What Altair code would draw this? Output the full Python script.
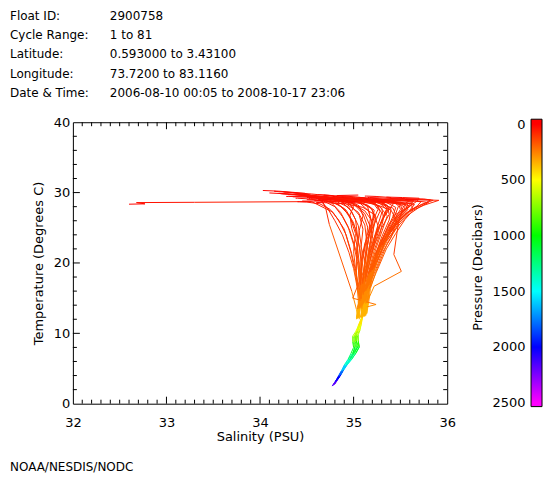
import altair as alt
import pandas as pd

# ---------------- text ----------------
header_labels = ["Float ID:", "Cycle Range:", "Latitude:", "Longitude:", "Date & Time:"]
header_values = ["2900758", "1 to 81", "0.593000 to 3.43100", "73.7200 to 83.1160",
                 "2006-08-10 00:05 to 2008-10-17 23:06"]
footer_text = "NOAA/NESDIS/NODC"

# ---------------- axis ticks ----------------
sal_ticks = [32, 33, 34, 35, 36]
tmp_ticks = [0, 10, 20, 30, 40]
pres_ticks = [0, 500, 1000, 1500, 2000, 2500]

# ---------------- colour table: pressure -> colour ----------------
pres_stops = [0, 500, 1000, 1500, 2000, 2500]
color_stops = ["#ff0000", "#ffff00", "#00ff00", "#00ffff", "#0000ff", "#ff00ff"]

# ---------------- profiles (salinity / temperature at pressure levels) ----------------
levels = [5, 15, 25, 40, 60, 80, 100, 125, 150, 200, 250, 300, 400,
          500, 600, 700, 850, 1000, 1150, 1300, 1500, 1700, 1900, 2100, 2250]

sal_01 = [32.60, 32.77, 32.68, 33.30, 34.55, 34.78, 34.90, 34.97, 35.01, 35.05, 35.07, 35.06, 35.05]
tmp_01 = [28.35, 28.40, 28.58, 28.62, 28.72, 27.20, 24.80, 21.60, 19.00, 16.10, 14.60, 13.50, 12.20]
sal_02 = [34.03, 34.20, 34.48, 34.62, 34.72, 34.80, 34.88, 34.95, 35.00, 35.04, 35.07, 35.12, 35.13]
tmp_02 = [30.30, 30.20, 29.90, 29.20, 27.80, 26.00, 24.00, 21.50, 19.20, 16.40, 14.80, 13.60, 12.60]
sal_03 = [34.20, 34.25, 34.40, 34.66, 34.85, 34.95, 35.02, 35.06, 35.08, 35.09, 35.10, 35.10, 35.10,
          35.08, 35.06, 35.04, 35.05, 35.06, 35.02, 34.98, 34.93, 34.89, 34.86, 34.82, 34.79]
tmp_03 = [29.90, 29.85, 29.70, 29.10, 28.20, 26.80, 24.90, 22.40, 20.10, 17.00, 15.20, 13.80, 12.50,
          11.20, 10.40, 9.70, 8.80, 8.00, 7.10, 6.30, 5.50, 4.70, 4.00, 3.30, 2.70]
sal_04 = [34.35, 34.36, 34.50, 34.90, 35.10, 35.20, 35.22, 35.20, 35.16, 35.12, 35.08, 35.04, 35.06]
tmp_04 = [29.40, 29.40, 29.35, 29.00, 28.50, 27.60, 26.00, 23.50, 21.00, 17.50, 15.30, 13.70, 12.40]
sal_05 = [35.20, 35.22, 35.40, 35.70, 35.91, 35.75, 35.60, 35.48, 35.36, 35.22, 35.17, 35.15, 35.14]
tmp_05 = [29.10, 29.10, 29.05, 29.00, 28.90, 28.20, 27.30, 25.60, 23.20, 19.50, 16.60, 14.40, 12.80]
sal_06 = [34.80, 34.82, 34.95, 35.30, 35.62, 35.63, 35.55, 35.45, 35.35, 35.24, 35.16, 35.14, 35.12]
tmp_06 = [28.90, 28.90, 28.90, 28.85, 28.40, 27.40, 26.20, 24.20, 22.00, 18.60, 16.00, 14.10, 12.50]
sal_07 = [34.60, 34.62, 34.75, 35.05, 35.35, 35.45, 35.42, 35.35, 35.28, 35.18, 35.13, 35.10, 35.09,
          35.06, 35.04, 35.01, 35.00, 35.01, 34.99, 34.96, 34.92, 34.88, 34.85, 34.81, 34.78]
tmp_07 = [29.20, 29.20, 29.15, 29.00, 28.60, 27.90, 26.60, 24.60, 22.50, 18.90, 16.20, 14.20, 12.40,
          11.00, 10.30, 9.60, 8.70, 7.90, 7.00, 6.20, 5.40, 4.60, 3.90, 3.20, 2.60]
sal_08 = [34.45, 34.46, 34.58, 34.78, 34.92, 35.05, 35.12, 35.14, 35.12, 35.10, 35.07, 35.05, 35.04]
tmp_08 = [29.60, 29.60, 29.50, 29.20, 28.40, 27.20, 25.40, 23.00, 20.60, 17.30, 15.20, 13.60, 12.10]
sal_09 = [34.50, 34.52, 34.60, 34.66, 34.70, None, 34.74, None, None, None, 34.98, 35.03, 35.05]
tmp_09 = [29.30, 29.30, 29.25, 28.90, 27.90, None, 25.50, None, None, None, 16.00, 13.40, 12.20]
sal_10 = [34.90, 34.92, 35.05, 35.30, 35.50, 35.52, 35.48, 35.43, None, 35.51, 35.22, 35.13, 35.11]
tmp_10 = [29.00, 29.00, 28.95, 28.80, 28.30, 27.50, 25.80, 21.20, None, 18.80, 16.70, 14.00, 12.40]
sal_11 = [34.55, 34.58, 34.70, 34.95, 35.18, 35.30, 35.32, 35.28, 35.22, 35.15, 35.11, 35.10, 35.09,
          35.05, 35.03, 35.00, 35.01, 35.02, 34.99, 34.95, 34.91, 34.88, 34.85, 34.82, 34.79]
tmp_11 = [29.50, 29.48, 29.40, 29.10, 28.70, 27.80, 26.40, 24.10, 21.80, 18.20, 15.80, 14.00, 12.40,
          11.10, 10.20, 9.50, 8.70, 8.10, 7.20, 6.40, 5.60, 4.80, 4.10, 3.40, 2.80]
sal_12 = [34.95, 34.70, 34.78, 34.98, 35.22, 35.40, 35.46, 35.40, 35.30, 35.20, 35.14, 35.13, 35.12]
tmp_12 = [29.05, 29.00, 28.95, 28.85, 28.40, 27.50, 26.00, 23.60, 21.30, 17.80, 15.50, 13.80, 12.60]
sal_13 = [34.95, 34.96, 35.10, 35.38, 35.55, 35.58, 35.50, 35.40, 35.32, 35.22, 35.17, 35.15, 35.13]
tmp_13 = [28.80, 28.80, 28.78, 28.70, 28.30, 27.60, 26.50, 24.60, 22.60, 19.00, 16.30, 14.30, 12.70]
sal_14 = [34.30, 34.32, 34.45, 34.70, 34.88, 34.98, 35.05, 35.08, 35.08, 35.07, 35.06, 35.05, 35.06]
tmp_14 = [29.70, 29.70, 29.60, 29.30, 28.60, 27.30, 25.30, 22.60, 20.20, 17.00, 15.00, 13.50, 12.00]
sal_15 = [34.85, 34.88, 35.00, 35.22, 35.36, 35.38, 35.30, 35.22, 35.17, 35.12, 35.10, 35.09, 35.09,
          35.08, 35.07, 35.05, 35.05, 35.06, 35.02, 34.97, 34.92, 34.88, 34.85, 34.81, 34.78]
tmp_15 = [29.20, 29.20, 29.10, 28.90, 28.20, 26.90, 25.00, 22.50, 20.30, 17.20, 15.20, 13.60, 12.30,
          11.30, 10.50, 9.80, 8.90, 8.10, 7.10, 6.20, 5.40, 4.60, 3.90, 3.10, 2.60]
sal_16 = [35.00, 35.02, 35.20, 35.50, 35.72, 35.68, 35.55, 35.42, 35.32, 35.20, 35.15, 35.14, 35.12]
tmp_16 = [29.00, 29.00, 28.98, 28.95, 28.70, 28.10, 27.00, 25.20, 23.00, 19.40, 16.50, 14.40, 12.70]
sal_17 = [34.40, 34.42, 34.55, 34.80, 35.00, 35.10, 35.15, 35.13, 35.10, 35.08, 35.07, 35.06, 35.04]
tmp_17 = [29.80, 29.75, 29.65, 29.20, 28.40, 27.00, 25.10, 22.80, 20.60, 17.60, 15.40, 13.70, 12.10]
sal_18 = [34.65, 34.66, 34.80, 35.08, 35.28, 35.35, 35.30, 35.25, 35.20, 35.13, 35.10, 35.11, 35.12]
tmp_18 = [29.35, 29.35, 29.30, 29.05, 28.50, 27.60, 26.10, 23.80, 21.50, 18.00, 15.60, 13.90, 12.40]
sal_19 = [35.30, 35.32, 35.45, 35.65, 35.80, 35.70, 35.58, 35.46, 35.36, 35.25, 35.18, 35.16, 35.14]
tmp_19 = [28.90, 28.90, 28.88, 28.85, 28.60, 27.90, 26.80, 25.00, 22.80, 19.20, 16.40, 14.30, 12.80]
sal_20 = [34.75, 34.76, 34.85, 35.05, 35.15, 35.18, 35.16, 35.14, 35.12, 35.10, 35.09, 35.09, 35.09,
          35.06, 35.04, 35.02, 35.03, 35.04, 35.00, 34.96, 34.92, 34.89, 34.86, 34.82, 34.79]
tmp_20 = [29.10, 29.10, 29.05, 28.80, 28.00, 26.40, 24.20, 21.60, 19.40, 16.60, 14.90, 13.50, 12.30,
          11.10, 10.30, 9.70, 8.90, 8.00, 7.00, 6.30, 5.50, 4.80, 4.10, 3.30, 2.70]
sal_21 = [34.50, 34.50, 34.60, 34.82, 34.95, 35.02, 35.04, 35.03, 35.03, 35.04, 35.05, 35.05, 35.03]
tmp_21 = [29.00, 29.00, 28.95, 28.70, 27.90, 26.20, 24.00, 21.20, 19.00, 16.30, 14.70, 13.40, 12.00]
sal_22 = [34.90, 34.90, 35.02, 35.25, 35.42, 35.48, 35.45, 35.37, 35.28, 35.18, 35.13, 35.11, 35.12]
tmp_22 = [29.40, 29.40, 29.35, 29.15, 28.80, 28.10, 27.00, 25.00, 22.80, 19.10, 16.30, 14.30, 12.50]
sal_23 = [34.25, 34.28, 34.40, 34.62, 34.80, 34.92, 35.00, 35.05, 35.08, 35.09, 35.08, 35.07, 35.05]
tmp_23 = [30.10, 30.05, 29.90, 29.40, 28.70, 27.50, 25.70, 23.20, 20.70, 17.40, 15.30, 13.70, 12.40]
sal_24 = [35.10, 35.12, 35.30, 35.55, 35.65, 35.60, 35.50, 35.38, 35.28, 35.18, 35.13, 35.12, 35.11]
tmp_24 = [28.70, 28.70, 28.70, 28.65, 28.30, 27.50, 26.20, 24.10, 22.00, 18.50, 15.90, 14.10, 12.40]
sal_25 = [34.60, 34.60, 34.72, 34.92, 35.10, 35.22, 35.26, 35.22, 35.18, 35.12, 35.10, 35.09, 35.09,
          35.05, 35.02, 34.99, 34.99, 35.00, 34.97, 34.94, 34.90, 34.87, 34.84, 34.81, 34.78]
tmp_25 = [28.60, 28.60, 28.55, 28.40, 27.90, 26.90, 25.30, 22.80, 20.50, 17.20, 15.20, 13.60, 12.30,
          11.00, 10.20, 9.60, 8.80, 8.00, 7.10, 6.30, 5.50, 4.70, 4.00, 3.20, 2.60]
sal_26 = [35.05, 34.82, 34.92, 35.12, 35.30, 35.40, 35.38, 35.30, 35.24, 35.16, 35.12, 35.10, 35.07]
tmp_26 = [29.65, 29.58, 29.50, 29.25, 28.70, 27.70, 26.10, 23.70, 21.40, 17.90, 15.60, 13.90, 12.20]
sal_27 = [34.38, 34.40, 34.52, 34.68, 34.80, 34.88, 34.96, 35.02, 35.06, 35.08, 35.07, 35.06, 35.04]
tmp_27 = [29.20, 29.20, 29.10, 28.80, 28.00, 26.60, 24.60, 22.00, 19.80, 16.80, 14.90, 13.50, 12.30]
sal_28 = [35.05, 35.06, 35.15, 35.35, 35.48, 35.50, 35.44, 35.35, 35.27, 35.17, 35.13, 35.11, 35.10,
          35.07, 35.05, 35.03, 35.03, 35.05, 35.01, 34.97, 34.93, 34.89, 34.86, 34.83, 34.80]
tmp_28 = [29.20, 29.20, 29.15, 29.00, 28.50, 27.60, 26.30, 24.30, 22.20, 18.70, 16.10, 14.20, 12.50,
          11.20, 10.40, 9.80, 8.90, 8.20, 7.30, 6.40, 5.60, 4.80, 4.10, 3.40, 2.80]
sal_29 = [34.70, 34.72, 34.85, 35.10, 35.25, 35.30, 35.26, 35.20, 35.15, 34.99, 35.24, 35.10, 35.11]
tmp_29 = [29.00, 29.00, 28.95, 28.75, 28.20, 27.10, 25.40, 22.70, 20.20, 15.00, 14.10, 13.60, 12.40]
sal_30 = [34.55, 34.56, 34.66, 34.88, 35.06, 35.16, 35.20, 35.18, 35.15, 35.11, 35.09, 35.09, 35.09,
          35.06, 35.04, 35.02, 35.02, 35.03, 34.99, 34.95, 34.91, 34.87, 34.84, 34.80, 34.77]
tmp_30 = [29.45, 29.45, 29.40, 29.15, 28.60, 27.40, 25.60, 23.00, 20.60, 17.30, 15.20, 13.60, 12.30,
          11.10, 10.30, 9.60, 8.80, 8.00, 7.00, 6.20, 5.40, 4.60, 3.90, 3.10, 2.50]
sal_31 = [35.40, 35.42, 35.55, 35.75, 35.85, 35.72, 35.58, 35.44, 35.34, 35.22, 35.16, 35.14, 35.13]
tmp_31 = [29.20, 29.20, 29.15, 29.10, 28.90, 28.30, 27.20, 25.30, 23.10, 19.30, 16.40, 14.30, 12.50]
sal_32 = [34.15, 34.18, 34.35, 34.58, 34.76, 34.86, 34.94, 35.00, 35.04, 35.07, 35.08, 35.07, 35.06]
tmp_32 = [30.20, 30.15, 30.00, 29.50, 28.60, 27.20, 25.20, 22.60, 20.20, 17.10, 15.10, 13.60, 12.10]
sal_33 = [34.10, 34.30, 34.52, 34.75, 34.98, 35.12, 35.20, 35.16, 35.13, 35.10, 35.09, 35.09, 35.09]
tmp_33 = [29.95, 29.80, 29.55, 29.10, 28.45, 27.40, 25.90, 23.40, 21.00, 17.60, 15.40, 13.70, 12.30]
sal_34 = [34.45, 34.47, 34.70, 35.20, 35.55, 35.50, 35.38, 35.30, 35.22, 35.14, 35.11, 35.10, 35.08]
tmp_34 = [28.80, 28.80, 28.78, 28.70, 28.35, 27.20, 25.60, 23.20, 21.00, 17.70, 15.50, 13.80, 12.40]
sal_35 = [35.55, 35.58, 35.70, 35.82, 35.78, 35.62, 35.50, 35.40, 35.30, 35.20, 35.14, 35.13, 35.12]
tmp_35 = [29.00, 29.00, 28.98, 28.95, 28.60, 27.60, 26.20, 24.40, 22.40, 18.80, 16.10, 14.20, 12.60]
sal_36 = [34.62, 34.64, 34.74, 34.86, 34.96, 35.06, 35.10, 35.08, 35.12, 35.09, 35.08, 35.06, 35.05]
tmp_36 = [29.70, 29.70, 29.60, 29.20, 28.30, 26.80, 24.80, 22.30, 20.30, 17.10, 15.00, 13.50, 12.30]
sal_37 = [34.95, 34.97, 35.12, 35.30, 35.38, 35.33, 35.26, 35.21, 35.16, 35.11, 35.09, 35.10, 35.11]
tmp_37 = [28.95, 28.95, 28.90, 28.60, 27.90, 26.70, 24.90, 22.50, 20.30, 17.00, 15.00, 13.50, 12.50]
sal_38 = [34.28, 34.30, 34.62, 35.00, 35.28, 35.36, 35.32, 35.24, 35.18, 35.12, 35.10, 35.09, 35.09]
tmp_38 = [29.45, 29.45, 29.40, 29.20, 28.70, 27.80, 26.40, 24.00, 21.60, 18.10, 15.70, 13.90, 12.40]
sal_39 = [35.15, 35.17, 35.28, 35.48, 35.62, 35.56, 35.46, 35.37, 35.29, 35.19, 35.14, 35.12, 35.11]
tmp_39 = [29.30, 29.30, 29.25, 29.10, 28.60, 27.70, 26.50, 24.50, 22.40, 18.90, 16.20, 14.20, 12.50]
sal_40 = [34.72, 34.73, 34.82, 34.96, 35.06, 35.10, 35.06, 35.04, 35.05, 35.06, 35.07, 35.08, 35.09]
tmp_40 = [29.15, 29.15, 29.10, 28.85, 28.10, 26.70, 24.60, 22.00, 19.60, 16.60, 14.80, 13.50, 12.30]
sal_41 = [34.85, 34.86, 34.95, 35.18, 35.45, 35.55, 35.50, 35.40, 35.30, 35.19, 35.13, 35.11, 35.10]
tmp_41 = [29.25, 29.25, 29.20, 29.05, 28.70, 27.90, 26.80, 24.90, 22.70, 19.00, 16.30, 14.30, 12.50]
sal_42 = [34.58, 34.60, 34.68, 34.80, 34.90, 34.97, 35.02, 35.00, 35.02, 35.05, 35.06, 35.04, 35.03]
tmp_42 = [28.90, 28.90, 28.85, 28.50, 27.70, 26.20, 24.20, 21.60, 19.20, 16.20, 14.60, 13.40, 12.20]
sal_43 = [34.35, 34.38, 34.55, 34.85, 35.12, 35.28, 35.36, 35.30, 35.24, 35.16, 35.12, 35.10, 35.09]
tmp_43 = [30.00, 29.95, 29.80, 29.40, 28.90, 28.00, 26.70, 24.40, 22.10, 18.40, 15.90, 14.00, 12.40]
sal_44 = [35.25, 35.27, 35.35, 35.50, 35.58, 35.55, 35.47, 35.39, 35.31, 35.21, 35.14, 35.12, 35.10]
tmp_44 = [28.75, 28.75, 28.72, 28.65, 28.30, 27.50, 26.30, 24.40, 22.30, 18.80, 16.10, 14.20, 12.50]
sal_45 = [34.48, 34.50, 34.64, 34.90, 35.02, 35.12, 35.18, 35.15, 35.12, 35.10, 35.09, 35.09, 35.09]
tmp_45 = [29.55, 29.55, 29.45, 29.10, 28.30, 27.00, 25.10, 22.60, 20.30, 17.00, 15.00, 13.50, 12.30]
sal_46 = [35.02, 35.04, 35.16, 35.40, 35.64, 35.60, 35.42, 35.48, 35.34, 35.22, 35.15, 35.12, 35.10]
tmp_46 = [29.05, 29.05, 29.00, 28.95, 28.75, 28.00, 26.70, 25.30, 23.00, 19.30, 16.50, 14.40, 12.60]
sal_47 = [34.68, 34.70, 34.80, 35.00, 35.20, 35.26, 35.20, 35.18, 35.16, 35.12, 35.10, 35.09, 35.09]
tmp_47 = [29.65, 29.65, 29.55, 29.30, 28.70, 27.60, 25.80, 23.40, 21.10, 17.70, 15.40, 13.70, 12.30]
sal_48 = [34.92, 34.94, 35.06, 35.28, 35.48, 35.60, 35.55, 35.45, 35.36, 35.25, 35.17, 35.12, 35.10]
tmp_48 = [28.85, 28.85, 28.85, 28.80, 28.60, 28.10, 27.30, 25.80, 23.90, 20.10, 16.90, 14.60, 12.60]
sal_49 = [34.40, 34.42, 34.50, 34.64, 34.75, 34.84, 34.92, 34.98, 35.02, 35.06, 35.08, 35.09, 35.09]
tmp_49 = [28.70, 28.70, 28.65, 28.40, 27.60, 26.10, 24.00, 21.30, 19.00, 16.20, 14.60, 13.40, 12.20]
sal_50 = [35.35, 35.38, 35.52, 35.70, 35.68, 35.58, 35.48, 35.38, 35.30, 35.20, 35.14, 35.11, 35.10]
tmp_50 = [29.35, 29.35, 29.30, 29.20, 28.80, 27.90, 26.70, 24.80, 22.70, 19.00, 16.30, 14.30, 12.50]
sal_51 = [34.78, 34.80, 34.90, 35.10, 35.24, 35.28, 35.22, 35.12, 35.08, 35.07, 35.08, 35.09, 35.09]
tmp_51 = [29.40, 29.40, 29.30, 29.00, 28.40, 27.30, 25.50, 22.80, 20.20, 16.80, 14.80, 13.50, 12.30]
sal_52 = [34.52, 34.54, 34.66, 34.94, 35.24, 35.42, 35.46, 35.38, 35.28, 35.18, 35.13, 35.10, 35.09]
tmp_52 = [29.15, 29.15, 29.10, 28.95, 28.60, 27.80, 26.60, 24.50, 22.30, 18.70, 16.00, 14.10, 12.40]
sal_53 = [34.88, 34.90, 35.00, 35.14, 35.22, 35.20, 35.14, 35.10, 35.08, 35.07, 35.08, 35.09, 35.09]
tmp_53 = [28.65, 28.65, 28.60, 28.30, 27.50, 26.00, 23.80, 21.20, 19.00, 16.20, 14.60, 13.40, 12.30]
sal_54 = [34.22, 34.26, 34.48, 34.80, 35.05, 35.18, 35.24, 35.20, 35.16, 35.12, 35.10, 35.09, 35.09]
tmp_54 = [29.85, 29.80, 29.65, 29.30, 28.80, 27.90, 26.50, 24.20, 21.90, 18.30, 15.80, 14.00, 12.40]
sal_55 = [35.12, 35.14, 35.24, 35.40, 35.44, 35.38, 35.30, 35.22, 35.17, 35.12, 35.10, 35.09, 35.09]
tmp_55 = [29.50, 29.50, 29.45, 29.30, 28.70, 27.60, 26.00, 23.60, 21.30, 17.80, 15.50, 13.80, 12.40]
sal_56 = [34.62, 34.64, 34.76, 34.92, 35.00, 34.96, 34.98, 35.04, 35.06, 35.07, 35.08, 35.09, 35.09]
tmp_56 = [29.05, 29.05, 29.00, 28.70, 28.00, 26.80, 24.90, 22.40, 20.00, 16.90, 14.90, 13.50, 12.30]

profiles = [
    (sal_01, tmp_01), (sal_02, tmp_02), (sal_03, tmp_03), (sal_04, tmp_04),
    (sal_05, tmp_05), (sal_06, tmp_06), (sal_07, tmp_07), (sal_08, tmp_08),
    (sal_09, tmp_09), (sal_10, tmp_10), (sal_11, tmp_11), (sal_12, tmp_12),
    (sal_13, tmp_13), (sal_14, tmp_14), (sal_15, tmp_15), (sal_16, tmp_16),
    (sal_17, tmp_17), (sal_18, tmp_18), (sal_19, tmp_19), (sal_20, tmp_20),
    (sal_21, tmp_21), (sal_22, tmp_22), (sal_23, tmp_23), (sal_24, tmp_24),
    (sal_25, tmp_25), (sal_26, tmp_26), (sal_27, tmp_27), (sal_28, tmp_28),
    (sal_29, tmp_29), (sal_30, tmp_30), (sal_31, tmp_31), (sal_32, tmp_32),
    (sal_33, tmp_33), (sal_34, tmp_34), (sal_35, tmp_35), (sal_36, tmp_36),
    (sal_37, tmp_37), (sal_38, tmp_38), (sal_39, tmp_39), (sal_40, tmp_40),
    (sal_41, tmp_41), (sal_42, tmp_42), (sal_43, tmp_43), (sal_44, tmp_44),
    (sal_45, tmp_45), (sal_46, tmp_46), (sal_47, tmp_47), (sal_48, tmp_48),
    (sal_49, tmp_49), (sal_50, tmp_50), (sal_51, tmp_51), (sal_52, tmp_52),
    (sal_53, tmp_53), (sal_54, tmp_54), (sal_55, tmp_55), (sal_56, tmp_56),
]

# segments table built from the profiles
rows = []
for pid, (sal, tmp) in enumerate(profiles):
    pts = [(p, s, t) for p, s, t in zip(levels, sal, tmp) if s is not None]
    for (p1, s1, t1), (p2, s2, t2) in zip(pts[:-1], pts[1:]):
        rows.append({"prof": pid, "s": s1, "t": t1, "s2": s2, "t2": t2, "p": (p1 + p2) / 2})
seg = pd.DataFrame(rows)

# ---------------- layout ----------------
W, H = 375, 282
FONT = "DejaVu Sans"

x_scale = alt.Scale(domain=[32, 36], nice=False, zero=False)
y_scale = alt.Scale(domain=[0, 40], nice=False, zero=False)
c_scale = alt.Scale(domain=pres_stops, range=color_stops, interpolate="rgb")

x_axis = alt.Axis(values=sal_ticks, ticks=False, tickSize=0, domain=False, grid=False,
                  labelPadding=13, labelFlush=False, titleX=W / 2, titleY=33,
                  titleBaseline="middle")
y_axis = alt.Axis(values=tmp_ticks, ticks=False, tickSize=0, domain=False, grid=False,
                  labelPadding=3, labelFlush=False, titleX=-34, titleY=H / 2,
                  titleBaseline="middle", titleAngle=270)
x_title = "Salinity (PSU)"
y_title = "Temperature (Degrees C)"

profiles_layer = alt.Chart(seg).mark_rule(strokeWidth=1).encode(
    x=alt.X("s:Q", scale=x_scale, title=x_title, axis=x_axis),
    y=alt.Y("t:Q", scale=y_scale, title=y_title, axis=y_axis),
    x2="s2:Q",
    y2="t2:Q",
    color=alt.Color("p:Q", scale=c_scale, legend=None),
)

# IDL style inward ticks on all four sides
x_major = [33, 34, 35]
x_minor = [round(32 + i * 0.1, 1) for i in range(1, 40) if i % 10]
y_major = [10, 20, 30]
y_minor = [v for v in range(2, 40, 2) if v % 10]


def xticks(vals, length, top):
    y0, y1 = (0, length) if top else (H, H - length)
    return alt.Chart(pd.DataFrame({"s": vals})).mark_rule(color="black", strokeWidth=1).encode(
        x=alt.X("s:Q", scale=x_scale, title=x_title, axis=x_axis),
        y=alt.value(y0), y2=alt.value(y1))


def yticks(vals, length, right):
    x0, x1 = (W, W - length) if right else (0, length)
    return alt.Chart(pd.DataFrame({"t": vals})).mark_rule(color="black", strokeWidth=1).encode(
        y=alt.Y("t:Q", scale=y_scale, title=y_title, axis=y_axis),
        x=alt.value(x0), x2=alt.value(x1))


tick_layers = [
    xticks(x_major, 7, False), xticks(x_major, 7, True),
    xticks(x_minor, 4, False), xticks(x_minor, 4, True),
    yticks(y_major, 7, False), yticks(y_major, 7, True),
    yticks(y_minor, 4, False), yticks(y_minor, 4, True),
]

one = pd.DataFrame({"k": [0]})
hdr_lab = alt.Chart(one).mark_text(
    text=header_labels, align="left", baseline="alphabetic", lineHeight=19.3,
    fontSize=12, font=FONT, color="black").encode(x=alt.value(-63), y=alt.value(-102.5))
hdr_val = alt.Chart(one).mark_text(
    text=header_values, align="left", baseline="alphabetic", lineHeight=19.3,
    fontSize=12, font=FONT, color="black").encode(x=alt.value(37), y=alt.value(-102.5))
footer = alt.Chart(one).mark_text(
    text=footer_text, align="left", baseline="alphabetic",
    fontSize=12, font=FONT, color="black").encode(x=alt.value(-63), y=alt.value(349))

main = alt.layer(profiles_layer, *tick_layers, hdr_lab, hdr_val, footer)

# ---------------- colour bar ----------------
cb_top, cb_bottom = -45, 2535
span = cb_bottom - cb_top
stops = [alt.GradientStop(color=c, offset=(p - cb_top) / span) for p, c in zip(pres_stops, color_stops)]
stops = ([alt.GradientStop(color=color_stops[0], offset=0)] + stops +
         [alt.GradientStop(color=color_stops[-1], offset=1)])
grad = alt.LinearGradient(gradient="linear", stops=stops, x1=0, x2=0, y1=0, y2=1)

cbar = alt.Chart(pd.DataFrame({"p0": [cb_top], "p1": [cb_bottom]})).mark_rect(
    fill=grad, stroke="black", strokeWidth=1).encode(
    y=alt.Y("p0:Q", scale=alt.Scale(domain=[0, 2500], range=[2, 281], nice=False, zero=False),
            title="Pressure (Decibars)",
            axis=alt.Axis(values=pres_ticks, format="d", orient="left", offset=-459, ticks=False,
                          tickSize=0, domain=False, grid=False, labelPadding=6, labelFlush=False,
                          titleX=-54, titleY=145, titleBaseline="middle", titleAngle=270)),
    y2="p1:Q",
    x=alt.value(459),
    x2=alt.value(470),
)

chart = alt.layer(main, cbar).resolve_scale(y="independent").properties(
    width=W, height=H,
    autosize=alt.AutoSizeParams(type="none"),
    padding={"left": 65, "top": 114, "right": 105, "bottom": 72},
    background="white",
).configure_axis(
    labelFont=FONT, labelFontSize=13, labelColor="black",
    titleFont=FONT, titleFontSize=13, titleFontWeight="normal", titleColor="black",
).configure_view(stroke="black", strokeWidth=1)

chart.save("out.html", embed_options={"renderer": "svg", "actions": False})
